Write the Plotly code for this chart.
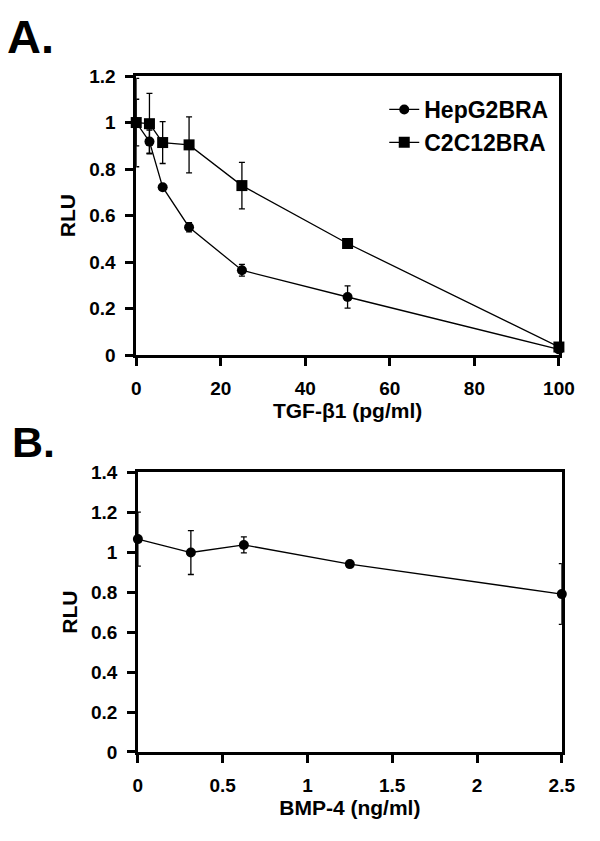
import plotly.graph_objects as go

# ---- Data ----
tgf_dose = [0, 3.125, 6.25, 12.5, 25, 50, 100]
hepg2_rlu = [1.0, 0.918, 0.722, 0.55, 0.365, 0.25, 0.025]
hepg2_err = [0.10, 0.05, 0.0, 0.02, 0.025, 0.048, 0.0]
c2c12_rlu = [1.0, 0.995, 0.914, 0.904, 0.729, 0.48, 0.035]
c2c12_err = [0.19, 0.13, 0.09, 0.12, 0.10, 0.015, 0.0]

bmp_dose = [0, 0.3125, 0.625, 1.25, 2.5]
bmp_rlu = [1.065, 0.998, 1.036, 0.94, 0.79]
bmp_err = [0.135, 0.11, 0.04, 0.0, 0.152]

W, H = 600, 841
FONT = "Liberation Sans, Arial, sans-serif"

def px_x(p):
    return p / W

def px_y(p):
    return 1 - p / H

fig = go.Figure()

line_style = dict(color="black", width=1.3)
err_style = dict(type="data", visible=True, color="black", thickness=1.3, width=3)

fig.add_trace(go.Scatter(
    x=tgf_dose, y=hepg2_rlu, name="HepG2BRA", mode="lines+markers",
    line=line_style, marker=dict(symbol="circle", size=10, color="black"),
    error_y=dict(array=hepg2_err, **err_style), cliponaxis=False,
    xaxis="x", yaxis="y"))
fig.add_trace(go.Scatter(
    x=tgf_dose, y=c2c12_rlu, name="C2C12BRA", mode="lines+markers",
    line=line_style, marker=dict(symbol="square", size=11, color="black"),
    error_y=dict(array=c2c12_err, **err_style), cliponaxis=False,
    xaxis="x", yaxis="y"))
fig.add_trace(go.Scatter(
    x=bmp_dose, y=bmp_rlu, name="BMP-4", mode="lines+markers", showlegend=False,
    line=line_style, marker=dict(symbol="circle", size=10, color="black"),
    error_y=dict(array=bmp_err, **err_style), cliponaxis=False,
    xaxis="x2", yaxis="y2"))

tickfont = dict(family=FONT, size=19, color="black", weight="bold")
titlefont = dict(family=FONT, size=21, color="black", weight="bold")

axis_common = dict(showgrid=False, zeroline=False, showline=True, linecolor="black",
                   linewidth=2.5, mirror=True, ticks="outside", ticklen=8,
                   tickwidth=2.5, tickcolor="black", tickfont=tickfont)

fig.update_layout(
    width=W, height=H, margin=dict(l=0, r=0, t=0, b=0),
    plot_bgcolor="white", paper_bgcolor="white",
    xaxis=dict(domain=[px_x(136), px_x(574)], range=[0, 100], dtick=20,
               anchor="y", ticklabelstandoff=6,
               title=dict(text="TGF-β1 (pg/ml)", font=titlefont, standoff=2),
               **axis_common),
    yaxis=dict(domain=[px_y(354), px_y(67.7)], range=[0, 1.2], dtick=0.2,
               anchor="x", ticklabelstandoff=6,
               title=dict(text="RLU", font=titlefont, standoff=8),
               **axis_common),
    xaxis2=dict(domain=[px_x(137.7), px_x(577)], range=[0, 2.5], dtick=0.5,
                anchor="y2", ticklabelstandoff=6,
                title=dict(text="BMP-4 (ng/ml)", font=titlefont, standoff=2),
                **axis_common),
    yaxis2=dict(domain=[px_y(761), px_y(474)], range=[0, 1.4], dtick=0.2,
                anchor="x2", ticklabelstandoff=6,
                title=dict(text="RLU", font=titlefont, standoff=8),
                **axis_common),
    legend=dict(x=px_x(393), y=px_y(80), xanchor="left", yanchor="top",
                bgcolor="rgba(0,0,0,0)", borderwidth=0,
                font=dict(family=FONT, size=23, color="black", weight="bold")),
    showlegend=True,
    annotations=[
        dict(text="A.", x=0, y=px_y(27.5), xref="paper", yref="paper",
             xanchor="left", yanchor="middle", showarrow=False,
             font=dict(family=FONT, size=47, color="black", weight="bold")),
        dict(text="B.", x=px_x(5), y=px_y(443), xref="paper", yref="paper",
             xanchor="left", yanchor="middle", showarrow=False,
             font=dict(family=FONT, size=43, color="black", weight="bold")),
    ],
)

fig.write_html(
    "out.html",
    config={"displayModeBar": False},
    post_script="document.body.style.margin='0';document.body.style.overflow='hidden';",
)
